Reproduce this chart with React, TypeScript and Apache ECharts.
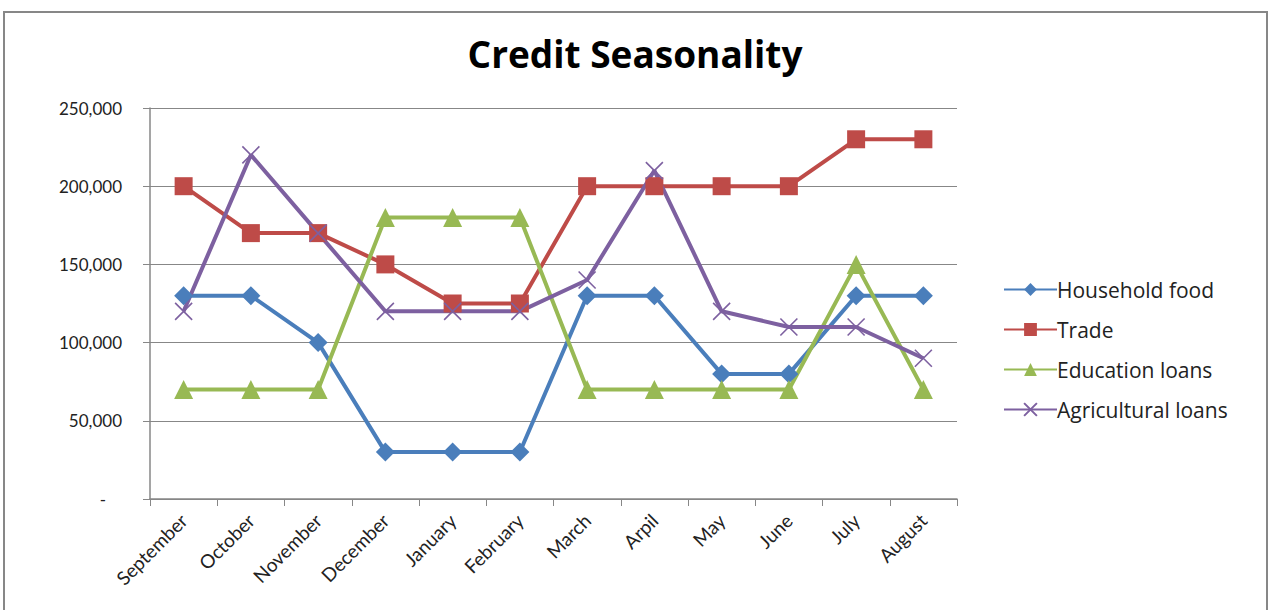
import React, { useEffect, useRef } from "react";
import * as echarts from "echarts";

const categories = ["September", "October", "November", "December", "January", "February", "March", "Arpil", "May", "June", "July", "August"];
const householdFood = [130000, 130000, 100000, 30000, 30000, 30000, 130000, 130000, 80000, 80000, 130000, 130000];
const trade = [200000, 170000, 170000, 150000, 125000, 125000, 200000, 200000, 200000, 200000, 230000, 230000];
const educationLoans = [70000, 70000, 70000, 180000, 180000, 180000, 70000, 70000, 70000, 70000, 150000, 70000];
const agriculturalLoans = [120000, 220000, 170000, 120000, 120000, 120000, 140000, 210000, 120000, 110000, 110000, 90000];

const FONT = "Lato, 'Noto Sans', sans-serif";
const WIDE = "'Open Sans', 'Noto Sans', sans-serif";
const CROSS = "path://M0,0L10,10M10,0L0,10";

export default function App() {
  const ref = useRef<HTMLDivElement>(null);
  useEffect(() => {
    if (!ref.current) return;
    const chart = echarts.init(ref.current, undefined, { renderer: "svg" });
    const mk = (name: string, data: number[], color: string, symbol: string, size: number, extra: any = {}) => ({
      name,
      type: "line",
      data,
      symbol,
      symbolSize: size,
      lineStyle: { color, width: 4 },
      itemStyle: { color, ...extra },
      emphasis: { disabled: true },
    });
    chart.setOption({
      animation: false,
      backgroundColor: "#ffffff",
      title: {
        text: "Credit Seasonality",
        left: "center",
        top: 30,
        textStyle: { fontFamily: WIDE, fontSize: 37, fontWeight: "bold", color: "#000" },
      },
      graphic: [
        {
          type: "rect",
          shape: { x: 4, y: 12, width: 1263, height: 620 },
          style: { fill: "none", stroke: "#878787", lineWidth: 2 },
          silent: true,
        },
      ],
      legend: {
        orient: "vertical",
        left: 998,
        top: 274,
        itemWidth: 53,
        itemHeight: 16,
        itemGap: 19,
        textStyle: { fontFamily: WIDE, fontSize: 21, color: "#222", padding: [0, 0, 0, -5] },
        data: ["Household food", "Trade", "Education loans", "Agricultural loans"],
      },
      grid: { left: 150, top: 108, right: 313, bottom: 111, containLabel: false },
      xAxis: {
        type: "category",
        data: categories,
        boundaryGap: true,
        axisLine: { lineStyle: { color: "#878787", width: 1.5 } },
        axisTick: { show: true, length: 7, interval: 0, lineStyle: { color: "#878787" } },
        axisLabel: { rotate: 45, interval: 0, fontFamily: FONT, fontSize: 19, color: "#222", margin: 18 },
        splitLine: { show: false },
      },
      yAxis: {
        type: "value",
        min: 0,
        max: 250000,
        interval: 50000,
        axisLine: { show: true, lineStyle: { color: "#878787", width: 1.5 } },
        axisTick: { show: true, length: 7, lineStyle: { color: "#878787" } },
        splitLine: { lineStyle: { color: "#878787", width: 1 } },
        axisLabel: {
          fontFamily: FONT,
          fontSize: 17,
          color: "#222",
          margin: 28,
          formatter: (v: number) => (v === 0 ? "{d|-}" : v.toLocaleString("en-US")),
          rich: { d: { fontFamily: FONT, fontSize: 17, color: "#222", padding: [0, 16, 0, 0] } },
        },
      },
      series: [
        mk("Household food", householdFood, "#4A7EBB", "diamond", 19),
        mk("Trade", trade, "#BE4B48", "rect", 18),
        mk("Education loans", educationLoans, "#98B954", "triangle", 19),
        mk("Agricultural loans", agriculturalLoans, "#7D60A0", CROSS, 17, { borderColor: "#7D60A0", borderWidth: 1.6 }),
      ],
    });
    return () => chart.dispose();
  }, []);
  return (
    <div style={{ position: "fixed", left: 0, top: 0 }}>
      <div ref={ref} style={{ width: 1270, height: 610 }} />
    </div>
  );
}
